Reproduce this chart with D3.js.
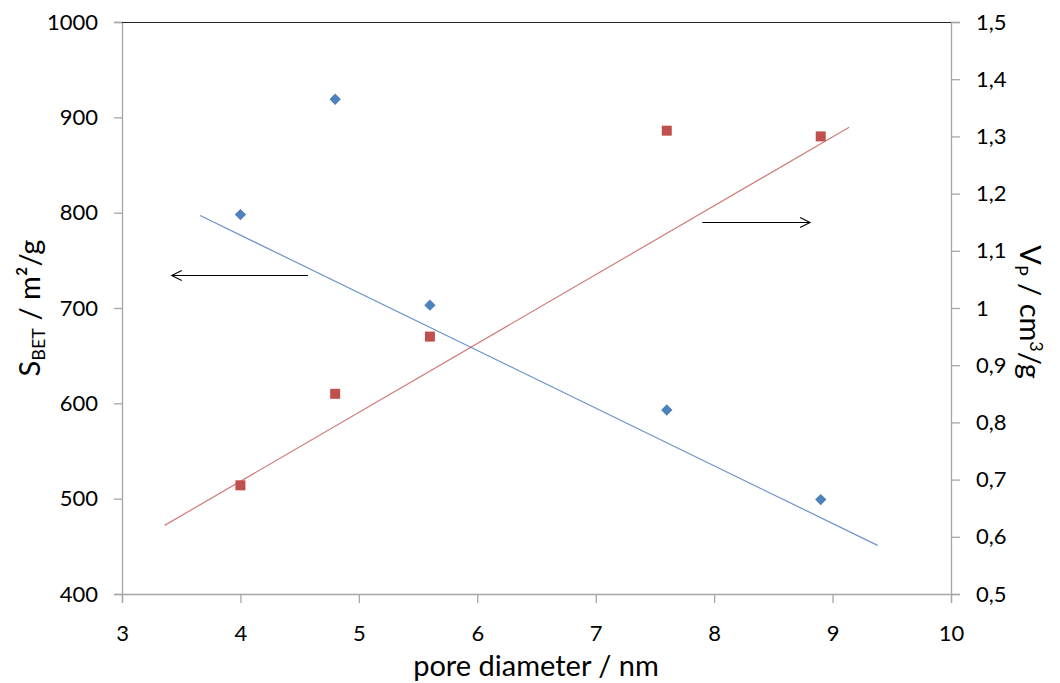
<!DOCTYPE html>
<html>
<head>
<meta charset="utf-8">
<script src="https://cdn.jsdelivr.net/npm/d3@7"></script>
<style>
  html, body { margin: 0; padding: 0; background: #fff; }
  svg { display: block; }
  text { font-family: Lato, "Open Sans", sans-serif; fill: #000; }
</style>
</head>
<body>
<svg id="chart" width="1060" height="683"></svg>
<script>
// Pore diameter (nm) of the samples
const poreDiameter = [4.0, 4.8, 5.6, 7.6, 8.9];
// BET surface area, m²/g (left axis)
const surfaceArea = [798, 919, 703, 593, 499];
// Pore volume, cm³/g (right axis)
const poreVolume = [0.69, 0.85, 0.95, 1.31, 1.30];

// Linear trend lines: [start, end] as [diameter, value]
const surfaceTrend = [[3.66, 797], [9.38, 451]];
const volumeTrend = [[3.36, 0.62], [9.14, 1.316]];

// Arrows pointing to the axis each series belongs to: [fromX, toX, level]
const surfaceArrow = [4.57, 3.42, 735];
const volumeArrow = [7.90, 8.81, 1.15];

// Axis ticks and labels
const xTicks = [3, 4, 5, 6, 7, 8, 9, 10];
const leftTicks = [400, 500, 600, 700, 800, 900, 1000];
const rightTicks = [0.5, 0.6, 0.7, 0.8, 0.9, 1.0, 1.1, 1.2, 1.3, 1.4, 1.5];
const rightTickLabels = ["0,5", "0,6", "0,7", "0,8", "0,9", "1", "1,1", "1,2", "1,3", "1,4", "1,5"];

const svg = d3.select("#chart");
const plot = { left: 122, right: 951, top: 22, bottom: 594 };

const x = d3.scaleLinear().domain([3, 10]).range([plot.left, plot.right]);
const yL = d3.scaleLinear().domain([400, 1000]).range([plot.bottom, plot.top]);
const yR = d3.scaleLinear().domain([0.5, 1.5]).range([plot.bottom, plot.top]);

const blue = "#4F81BD";
const red = "#C0504D";
const axisGray = "#a6a6a6";
const fontSize = 22;
const titleSize = 29;
const subSize = 18;

// Axes
function styleAxis(g) {
  g.selectAll("path").attr("stroke", axisGray).attr("stroke-width", 1.3);
  g.selectAll("line").attr("stroke", axisGray).attr("stroke-width", 1.3);
  g.selectAll("text").attr("font-size", fontSize).attr("fill", "#000")
    .style("font-family", "Lato, 'Open Sans', sans-serif");
}

const gx = svg.append("g")
  .attr("transform", `translate(0,${plot.bottom})`)
  .call(d3.axisBottom(x).tickValues(xTicks).tickFormat(d3.format("d")).tickSizeOuter(0).tickSize(9).tickPadding(22));
styleAxis(gx);

const gl = svg.append("g")
  .attr("transform", `translate(${plot.left},0)`)
  .call(d3.axisLeft(yL).tickValues(leftTicks).tickFormat(d3.format("d")).tickSizeOuter(0).tickSize(8).tickPadding(16));
styleAxis(gl);

const gr = svg.append("g")
  .attr("transform", `translate(${plot.right},0)`)
  .call(d3.axisRight(yR).tickValues(rightTicks)
    .tickFormat((d, i) => rightTickLabels[i]).tickSizeOuter(0).tickSize(9).tickPadding(16));
styleAxis(gr);

// Top border of the plot area
svg.append("line")
  .attr("x1", plot.left).attr("x2", plot.right)
  .attr("y1", plot.top + 0.5).attr("y2", plot.top + 0.5)
  .attr("stroke", "#222").attr("stroke-width", 1.2);

// Trend lines
const lineL = d3.line().x(d => x(d[0])).y(d => yL(d[1]));
const lineR = d3.line().x(d => x(d[0])).y(d => yR(d[1]));

svg.append("path").datum(surfaceTrend)
  .attr("d", lineL).attr("fill", "none")
  .attr("stroke", blue).attr("stroke-opacity", 0.85).attr("stroke-width", 1.2);

svg.append("path").datum(volumeTrend)
  .attr("d", lineR).attr("fill", "none")
  .attr("stroke", red).attr("stroke-opacity", 0.75).attr("stroke-width", 1.2);

// Markers: diamonds for surface area, squares for pore volume
const diamond = d3.symbol().type(d3.symbolDiamond2).size(82);
svg.append("g").selectAll("path")
  .data(poreDiameter.map((d, i) => [d, surfaceArea[i]]))
  .join("path")
  .attr("d", diamond)
  .attr("transform", d => `translate(${x(d[0])},${yL(d[1])})`)
  .attr("fill", blue);

svg.append("g").selectAll("rect")
  .data(poreDiameter.map((d, i) => [d, poreVolume[i]]))
  .join("rect")
  .attr("x", d => x(d[0]) - 5)
  .attr("y", d => yR(d[1]) - 5)
  .attr("width", 10).attr("height", 10)
  .attr("fill", red);

// Arrows
function arrow(x1, x2, yPix) {
  const dir = Math.sign(x2 - x1);
  svg.append("line")
    .attr("x1", x1).attr("x2", x2).attr("y1", yPix).attr("y2", yPix)
    .attr("stroke", "#000").attr("stroke-width", 1.1);
  svg.append("path")
    .attr("d", `M${x2 - dir * 10},${yPix - 5}L${x2},${yPix}L${x2 - dir * 10},${yPix + 5}`)
    .attr("fill", "none").attr("stroke", "#000").attr("stroke-width", 1.1);
}
arrow(x(surfaceArrow[0]), x(surfaceArrow[1]), Math.round(yL(surfaceArrow[2])) + 0.5);
arrow(x(volumeArrow[0]), x(volumeArrow[1]), Math.round(yR(volumeArrow[2])) + 0.5);

// Axis titles
svg.append("text")
  .attr("x", 536)
  .attr("y", 676)
  .attr("text-anchor", "middle")
  .attr("font-size", titleSize)
  .text("pore diameter / nm");

const leftTitle = svg.append("text")
  .attr("transform", `translate(40,${(plot.top + plot.bottom) / 2}) rotate(-90)`)
  .attr("text-anchor", "middle")
  .attr("font-size", titleSize);
leftTitle.append("tspan").text("S");
leftTitle.append("tspan").attr("font-size", subSize).attr("dy", 5).text("BET");
leftTitle.append("tspan").attr("dy", -5).text(" / m²/g");

const rightTitle = svg.append("text")
  .attr("transform", `translate(1020,${(plot.top + plot.bottom) / 2 + 4}) rotate(90)`)
  .attr("text-anchor", "middle")
  .attr("font-size", titleSize);
rightTitle.append("tspan").text("V");
rightTitle.append("tspan").attr("font-size", subSize).attr("dy", 5).text("P");
rightTitle.append("tspan").attr("dy", -5).text(" / cm");
rightTitle.append("tspan").attr("font-size", subSize).attr("dy", -10).text("3");
rightTitle.append("tspan").attr("dy", 10).text("/g");
</script>
</body>
</html>
